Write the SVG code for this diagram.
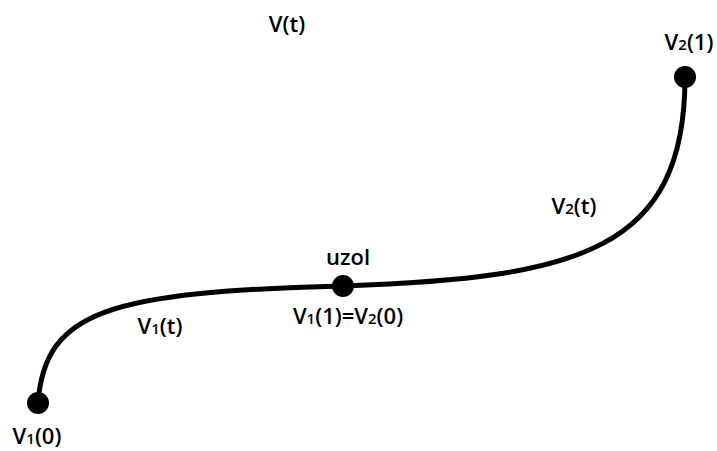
<svg xmlns="http://www.w3.org/2000/svg" width="717" height="451" viewBox="0 0 717 451">
  <style>
    .lbl { font-family: "Open Sans", "Liberation Sans", sans-serif; font-size: 22px; font-weight: 600; fill: #000; text-anchor: middle; }
    .sub { font-size: 15px; }
    .curve { fill: none; stroke: #000; stroke-width: 5; stroke-linecap: round; }
    .pt { fill: #000; }
  </style>
  <rect width="717" height="451" fill="#fff"/>

  <!-- the two curve segments -->
  <g id="connectors">
    <path id="seg1" class="curve" d="M38,403 C45,310 110,292 343,286"/>
    <path id="seg2" class="curve" d="M343,286 C580,278 685,250 685,77"/>
  </g>

  <g id="start-point">
    <circle class="pt" cx="38" cy="403" r="11"/>
    <text class="lbl" x="37" y="444">V<tspan class="sub">1</tspan>(0)</text>
  </g>

  <g id="node-uzol">
    <circle class="pt" cx="343" cy="286" r="11"/>
    <text class="lbl" x="348" y="265">uzol</text>
    <text class="lbl" x="348" y="324">V<tspan class="sub">1</tspan>(1)=V<tspan class="sub">2</tspan>(0)</text>
  </g>

  <g id="end-point">
    <circle class="pt" cx="685" cy="77" r="11"/>
    <text class="lbl" x="689" y="50">V<tspan class="sub">2</tspan>(1)</text>
  </g>

  <g id="curve-labels">
    <text class="lbl" x="287" y="32">V(t)</text>
    <text class="lbl" x="160" y="334">V<tspan class="sub">1</tspan>(t)</text>
    <text class="lbl" x="574" y="214">V<tspan class="sub">2</tspan>(t)</text>
  </g>
</svg>
